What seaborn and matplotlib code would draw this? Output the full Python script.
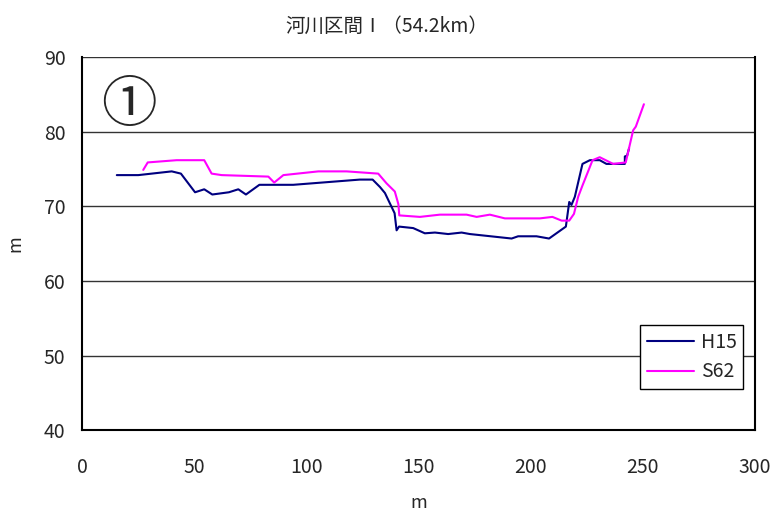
import numpy as np
import pandas as pd
import matplotlib
matplotlib.use("Agg")
import matplotlib.pyplot as plt
import seaborn as sns

# 横断距離 (m) と標高 (m)
h15_x = [15.5, 25.1, 40.0, 44.1, 50.4, 54.5, 58.1, 65.5, 69.7, 73.1, 79.1, 94.2,
         123.9, 129.6, 132.9, 135.1, 139.4, 140.3, 141.4, 147.7, 152.9, 157.4,
         163.3, 169.3, 173.0, 191.6, 194.5, 202.7, 208.3, 215.8, 217.3, 218.3,
         219.8, 223.2, 226.5, 230.9, 233.9, 242.1, 242.1, 243.1, 244.0]
h15_y = [74.2, 74.2, 74.7, 74.4, 71.9, 72.3, 71.6, 71.9, 72.3, 71.6, 72.9, 72.9,
         73.6, 73.6, 72.6, 71.8, 69.1, 66.8, 67.3, 67.1, 66.4, 66.5,
         66.3, 66.5, 66.3, 65.7, 66.0, 66.0, 65.7, 67.3, 70.6, 70.2,
         71.3, 75.7, 76.2, 76.2, 75.7, 75.7, 76.7, 76.8, 77.8]

s62_x = [27.3, 29.3, 42.2, 54.5, 57.8, 62.3, 83.1, 85.7, 89.8, 105.4, 118.0,
         132.1, 135.8, 139.5, 141.1, 141.5, 150.7, 159.6, 171.5, 176.0, 181.9,
         188.6, 204.2, 209.8, 213.9, 217.3, 219.4, 221.3, 223.2, 227.7, 230.9,
         236.9, 242.5, 245.8, 247.0, 250.6]
s62_y = [74.9, 75.9, 76.2, 76.2, 74.4, 74.2, 74.0, 73.2, 74.2, 74.7, 74.7,
         74.4, 73.1, 72.0, 70.3, 68.8, 68.6, 68.9, 68.9, 68.6, 68.9,
         68.4, 68.4, 68.6, 68.1, 68.1, 69.0, 71.3, 72.8, 76.2, 76.6,
         75.7, 75.9, 80.2, 80.7, 83.7]

df = pd.concat([
    pd.DataFrame({"x": h15_x, "y": h15_y, "series": "H15"}),
    pd.DataFrame({"x": s62_x, "y": s62_y, "series": "S62"}),
], ignore_index=True)

sns.set_style("white")
plt.rcParams["font.family"] = ["Noto Sans CJK JP", "DejaVu Sans"]

fig = plt.figure(figsize=(7.74, 5.11), dpi=100)
ax = fig.add_axes([0.106, 0.158, 0.869, 0.730])

sns.lineplot(data=df, x="x", y="y", hue="series", sort=False, estimator=None,
             palette={"H15": "#000080", "S62": "#FF00FF"}, linewidth=1.5, ax=ax)

ax.set_xlim(0, 300)
ax.set_ylim(40, 90)
ax.set_xticks(range(0, 301, 50))
ax.set_yticks(range(40, 91, 10))
ax.tick_params(length=0, labelsize=14)
ax.tick_params(axis="x", pad=19)
ax.tick_params(axis="y", pad=12)
ax.yaxis.grid(True, color="#333333", linewidth=1)
ax.set_axisbelow(True)
for side in ["left", "bottom", "right"]:
    ax.spines[side].set_color("black")
    ax.spines[side].set_linewidth(1.5)
ax.spines["top"].set_visible(False)

ax.set_xlabel("m", fontsize=13, labelpad=12)
ax.set_ylabel("m", fontsize=13, labelpad=14)
fig.suptitle("河川区間Ⅰ（54.2km）", fontsize=14, y=0.97)

ax.text(0.028, 0.945, "①", transform=ax.transAxes, fontsize=40, va="top", ha="left")

leg = ax.legend(loc="lower right", bbox_to_anchor=(0.983, 0.11), fontsize=14,
                frameon=True, fancybox=False, edgecolor="black", framealpha=1,
                handlelength=2.4, handletextpad=0.35, borderpad=0.35,
                labelspacing=0.45, borderaxespad=0)
leg.get_frame().set_linewidth(1)

fig.savefig("out.png", dpi=100)
